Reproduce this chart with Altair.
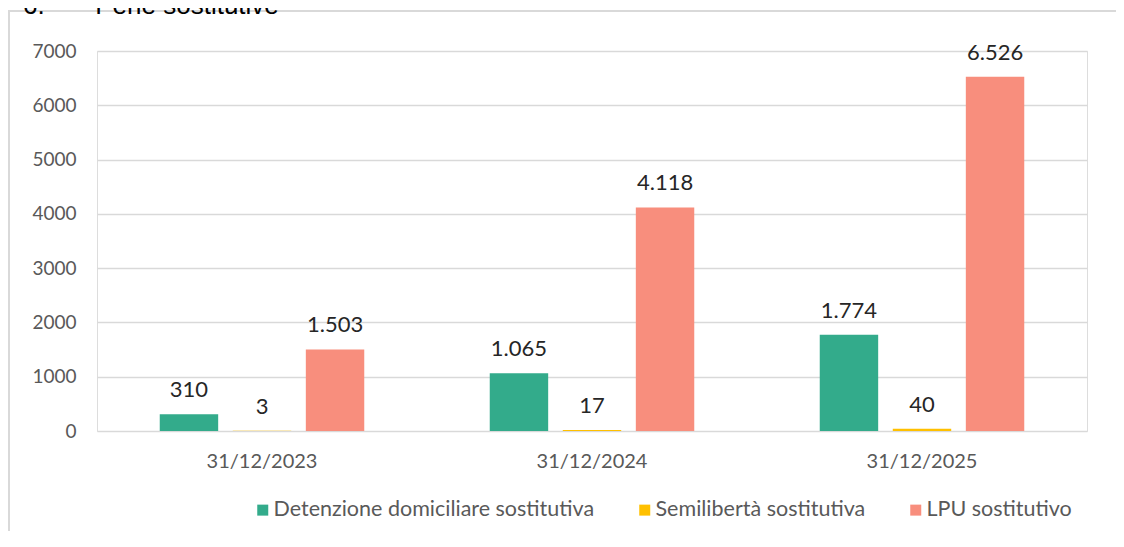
import altair as alt
import pandas as pd

dates = ["31/12/2023", "31/12/2024", "31/12/2025"]
series = ["Detenzione domiciliare sostitutiva", "Semilibertà sostitutiva", "LPU sostitutivo"]
detenzione = [310, 1065, 1774]
semiliberta = [3, 17, 40]
lpu = [1503, 4118, 6526]
colors = ["#33AB8B", "#FFC000", "#F88E7D"]
y_ticks = [0, 1000, 2000, 3000, 4000, 5000, 6000, 7000]
title_text = "6.\u00a0\u00a0\u00a0\u00a0\u00a0\u00a0\u00a0Pene sostitutive"

rows = []
for s, vals in zip(series, [detenzione, semiliberta, lpu]):
    for d, v in zip(dates, vals):
        rows.append({"date": d, "series": s, "value": v,
                     "label": f"{v:,}".replace(",", ".")})
df = pd.DataFrame(rows)

FONT = "Lato"

x_enc = alt.X("date:N", sort=dates, title=None,
              scale=alt.Scale(paddingInner=0.336, paddingOuter=0.168),
              axis=alt.Axis(labelFontSize=20, labelColor="#595959", labelFont=FONT,
                            labelPadding=20, ticks=False, domain=False, labelAngle=0))
xo_enc = alt.XOffset("series:N", sort=series,
                     scale=alt.Scale(paddingInner=0.2, paddingOuter=0.1))
y_enc = alt.Y("value:Q", title=None,
              scale=alt.Scale(domain=[0, 7000], nice=False),
              axis=alt.Axis(values=y_ticks, format="d", labelFontSize=19,
                            labelColor="#595959", labelFont=FONT, labelPadding=21,
                            ticks=False, domain=False, gridColor="#d9d9d9",
                            gridWidth=1.5))

base = alt.Chart(df)

bars = base.mark_bar().encode(
    x=x_enc, xOffset=xo_enc, y=y_enc,
    color=alt.Color("series:N", sort=series,
                    scale=alt.Scale(domain=series, range=colors),
                    legend=alt.Legend(title=None, orient="none", direction="horizontal",
                                      legendX=155, legendY=448,
                                      symbolType="square", symbolSize=121,
                                      symbolStrokeWidth=0, labelFontSize=21.5,
                                      labelFont=FONT, labelColor="#595959",
                                      labelOffset=0, columnPadding=39,
                                      labelLimit=600)),
)

labels = base.mark_text(fontSize=22, font=FONT, color="#262626",
                        baseline="alphabetic", dy=-17).encode(
    x=x_enc, xOffset=xo_enc, y=y_enc, text="label:N"
)

frame_df = pd.DataFrame({"k": [1]})
frame_left = alt.Chart(frame_df).mark_rule(color="#d9d9d9", strokeWidth=2).encode(
    x=alt.value(-88), y=alt.value(-40), y2=alt.value(500)
)
frame_top = alt.Chart(frame_df).mark_rule(color="#d9d9d9", strokeWidth=2).encode(
    x=alt.value(-89), x2=alt.value(1019), y=alt.value(-40)
)
title_df = pd.DataFrame({"t": [title_text]})
title = alt.Chart(title_df).mark_text(fontSize=26, font="Liberation Sans", color="#000000",
                                      align="left", baseline="alphabetic").encode(
    x=alt.value(-74), y=alt.value(-37), text="t:N"
)

chart = alt.layer(frame_left, frame_top, title, bars, labels).properties(
    width=990, height=380,
    autosize=alt.AutoSizeParams(type="none"),
    padding={"left": 89, "top": 43, "right": 29, "bottom": 100},
).configure_view(stroke=None).configure(background="white")

chart.save("out.html", embed_options={"renderer": "svg", "actions": False})
